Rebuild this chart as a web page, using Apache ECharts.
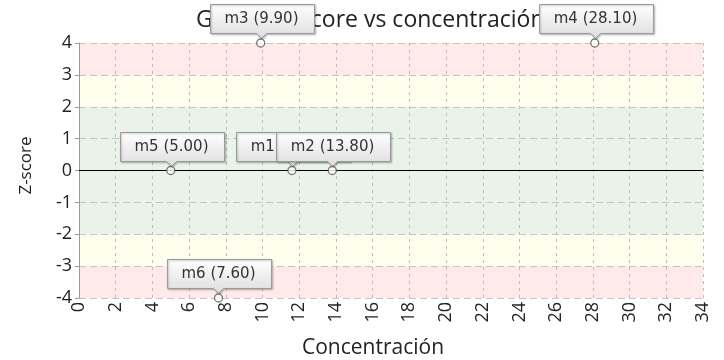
<!DOCTYPE html>
<html>
<head>
<meta charset="utf-8">
<script src="https://cdn.jsdelivr.net/npm/echarts@6/dist/echarts.min.js"></script>
<style>
  html, body { margin: 0; padding: 0; background: #fff; }
  #chart { width: 724px; height: 360px; }
</style>
</head>
<body>
<div id="chart"></div>
<script>
// Samples: concentration and z-score (z-score clipped to the ±4 range of the plot)
const sampleNames = ['m1', 'm2', 'm3', 'm4', 'm5', 'm6'];
const concentration = [11.60, 13.80, 9.90, 28.10, 5.00, 7.60];
const zScore = [0, 0, 4, 4, 0, -4];

// Acceptance zones in z-score units
const zoneLimits = [-4, -3, -2, 2, 3, 4];

const xTicks = { min: 0, max: 34, step: 2 };
const yTicks = { min: -4, max: 4, step: 1 };

const calloutFont = '15px "DejaVu Sans"';
const measureCtx = document.createElement('canvas').getContext('2d');
measureCtx.font = calloutFont;

const points = sampleNames.map((n, i) => [concentration[i], zScore[i]]);
const calloutText = sampleNames.map((n, i) => n + ' (' + concentration[i].toFixed(2) + ')');

const zoneColors = ['#ffe9e9', '#fffdec', '#e9f3ea', '#fffdec', '#ffe9e9'];
const zoneAreas = [];
for (let i = 0; i < zoneLimits.length - 1; i++) {
  zoneAreas.push([
    { yAxis: zoneLimits[i], itemStyle: { color: zoneColors[i] } },
    { yAxis: zoneLimits[i + 1] }
  ]);
}

const boxFill = new echarts.graphic.LinearGradient(0, 0, 0, 1, [
  { offset: 0, color: '#ffffff' },
  { offset: 1, color: '#dddddd' }
]);

// Callout box with a small pointer ending just above the sample marker
function renderCallout(params, api) {
  const p = api.coord([api.value(0), api.value(1)]);
  const text = calloutText[params.dataIndex];
  const w = Math.round(measureCtx.measureText(text).width + 30);
  const h = 29, ph = 5, r = 4;
  const cx = Math.round(p[0]) + 0.5;
  const tip = Math.round(p[1] - r) - 0.5;
  const bottom = tip - ph;
  const top = bottom - h;
  const l = Math.round(cx - w / 2) + 0.5;
  const rt = l + w;
  return {
    type: 'group',
    children: [
      {
        type: 'polygon',
        shape: { points: [[l, top], [rt, top], [rt, bottom], [cx + 5, bottom], [cx, tip], [cx - 5, bottom], [l, bottom]] },
        style: {
          fill: boxFill, stroke: '#9a9a9a', lineWidth: 1,
          shadowBlur: 2, shadowColor: 'rgba(0,0,0,0.25)', shadowOffsetX: 1, shadowOffsetY: 1
        }
      },
      {
        type: 'text',
        style: {
          text: text, x: cx, y: (top + bottom) / 2 + 0.5,
          align: 'center', verticalAlign: 'middle',
          font: calloutFont, fill: '#333333'
        }
      }
    ]
  };
}

const chart = echarts.init(document.getElementById('chart'));
chart.setOption({
  animation: false,
  backgroundColor: '#ffffff',
  title: {
    text: 'Gráfico Z-score vs concentración',
    left: 196,
    top: 9,
    padding: 0,
    textStyle: { fontFamily: 'Open Sans', fontSize: 23, fontWeight: 'normal', color: '#222' }
  },
  grid: { left: 79, right: 21, top: 43, bottom: 62, containLabel: false, outerBoundsMode: 'none' },
  xAxis: {
    type: 'value',
    min: xTicks.min, max: xTicks.max, interval: xTicks.step,
    name: 'Concentración',
    nameLocation: 'middle',
    nameGap: 40,
    nameTextStyle: { fontFamily: 'Open Sans', fontSize: 21, color: '#222', padding: [0, 36, 0, 0] },
    axisLine: { show: true, lineStyle: { color: '#777', type: [3, 3], width: 1 } },
    axisTick: { show: false },
    axisLabel: { rotate: 90, margin: 4, fontFamily: 'Open Sans', fontSize: 18, color: '#222' },
    splitLine: { show: true, lineStyle: { color: '#bdbdbd', type: [3, 4], width: 1 } }
  },
  yAxis: {
    type: 'value',
    min: yTicks.min, max: yTicks.max, interval: yTicks.step,
    name: 'Z-score',
    nameLocation: 'middle',
    nameGap: 44,
    nameTextStyle: { fontFamily: 'Open Sans', fontSize: 17, color: '#222', padding: [0, 0, 0, 10] },
    axisLine: { show: true, lineStyle: { color: '#9a9a9a', width: 1 } },
    axisTick: { show: true, length: 4, lineStyle: { color: '#9a9a9a' } },
    axisLabel: { margin: 7, fontFamily: 'Open Sans', fontSize: 18, color: '#222' },
    splitLine: { show: true, lineStyle: { color: '#c4c4c4', type: [7, 4], width: 1 } }
  },
  series: [
    {
      // zone bands, kept beneath the grid lines
      type: 'line',
      data: [],
      z: -1,
      markArea: { silent: true, z: -1, data: zoneAreas }
    },
    {
      type: 'scatter',
      data: points,
      z: 11,
      clip: false,
      symbol: 'circle',
      symbolSize: 8,
      itemStyle: { color: '#ffffff', borderColor: '#555555', borderWidth: 1.3 },
      markLine: {
        silent: true,
        symbol: 'none',
        label: { show: false },
        lineStyle: { color: '#000', type: 'solid', width: 1 },
        data: [{ yAxis: 0 }]
      }
    },
    {
      type: 'custom',
      data: points,
      z: 10,
      clip: false,
      renderItem: renderCallout
    }
  ]
});
</script>
</body>
</html>
